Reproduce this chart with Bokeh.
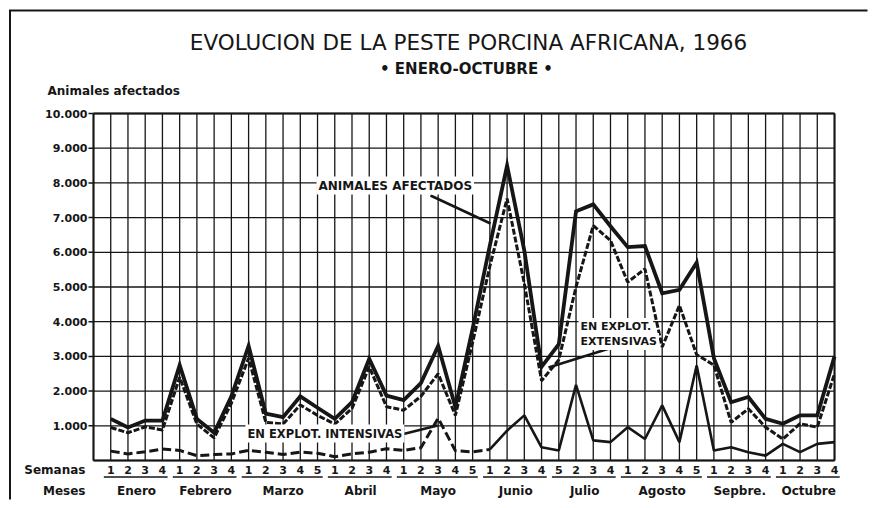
from bokeh.plotting import figure
from bokeh.models import Range1d, Label
from bokeh.core.properties import value
from bokeh.embed import file_html
from bokeh.resources import INLINE

# ---------------- data ----------------
months = ["Enero", "Febrero", "Marzo", "Abril", "Mayo", "Junio",
          "Julio", "Agosto", "Sepbre.", "Octubre"]
week_labels = [
    ["1", "2", "3", "4"],
    ["1", "2", "3", "4"],
    ["1", "2", "3", "4", "5"],
    ["1", "2", "3", "4"],
    ["1", "2", "3", "4", "5"],
    ["1", "2", "3", "4"],
    ["5", "2", "3", "4"],
    ["1", "2", "3", "4", "5"],
    ["1", "2", "3", "4"],
    ["1", "2", "3", "4"],
]
# Animales afectados (total)
total = [1200, 950, 1150, 1150,
         2750, 1200, 800, 1850,
         3300, 1350, 1250, 1850, 1520,
         1200, 1680, 2930, 1870,
         1740, 2230, 3300, 1540, 3800,
         6200, 8500, 6050, 2700,
         3350, 7180, 7380, 6750,
         6150, 6180, 4820, 4920, 5700,
         2950, 1680, 1830, 1200,
         1060, 1300, 1300, 3000]
# En explotaciones extensivas
extensivas = [950, 800, 970, 880,
              2400, 1050, 650, 1650,
              2950, 1100, 1050, 1600, 1300,
              1050, 1500, 2700, 1550,
              1450, 1850, 2500, 1300, 3400,
              5600, 7550, 5100, 2300,
              2900, 5000, 6770, 6340,
              5140, 5520, 3270, 4470, 3050,
              2750, 1100, 1490, 960,
              620, 1060, 960, 2500]
# En explotaciones intensivas
intensivas = [270, 190, 250, 330,
              290, 140, 170, 190,
              290, 240, 170, 240, 210,
              110, 190, 240, 340,
              290, 370, 1220, 280, 250,
              320, 860, 1300, 380,
              290, 2180, 580, 530,
              960, 620, 1590, 530, 2740,
              290, 380, 240, 140,
              480, 240, 480, 530]
y_ticks = [1000, 2000, 3000, 4000, 5000, 6000, 7000, 8000, 9000, 10000]
y_tick_labels = ["1.000", "2.000", "3.000", "4.000", "5.000",
                 "6.000", "7.000", "8.000", "9.000", "10.000"]

# ---------------- geometry helpers (reference pixel -> data) ----------------
PX_WEEK = 17.233
PX_UNIT = 0.0347
X0_IMG, Y0_IMG = 93.0, 460.0
CANVAS_X, CANVAS_Y = 0, 0
CANVAS_W, CANVAS_H = 868, 500


def kx(img_x):
    return (img_x - X0_IMG) / PX_WEEK


def vy(img_y):
    return (Y0_IMG - img_y) / PX_UNIT


n_weeks = sum(len(w) for w in week_labels)
weeks = list(range(1, n_weeks + 1))
y_max = y_ticks[-1]

p = figure(width=CANVAS_W, height=CANVAS_H,
           x_range=Range1d(kx(CANVAS_X), kx(CANVAS_X + CANVAS_W)),
           y_range=Range1d(vy(CANVAS_Y + CANVAS_H), vy(CANVAS_Y)),
           output_backend="svg", toolbar_location=None,
           x_axis_location=None, y_axis_location=None,
           min_border_left=0, min_border_right=0,
           min_border_top=0, min_border_bottom=0)
p.outline_line_color = None
p.background_fill_color = "white"
p.border_fill_color = "white"
p.grid.visible = False

INK = "#161616"
FONT = "DejaVu Sans"

# scan frame (left and top edges of the printed box)
p.line(x=[kx(9.5), kx(9.5), kx(CANVAS_W - 1)],
       y=[vy(CANVAS_H - 1), vy(10), vy(10)],
       line_color=INK, line_width=2, line_join="miter")

# grid
vx = list(range(0, n_weeks + 1))
p.segment(x0=vx, y0=[0] * len(vx), x1=vx, y1=[y_max] * len(vx),
          line_color=INK, line_width=1.3)
hy = [0] + y_ticks
p.segment(x0=[0] * len(hy), y0=hy, x1=[n_weeks] * len(hy), y1=hy,
          line_color=INK, line_width=1.3)
# chart frame
p.segment(x0=[0, n_weeks, 0, 0], y0=[0, 0, 0, y_max],
          x1=[0, n_weeks, n_weeks, n_weeks], y1=[y_max, y_max, 0, y_max],
          line_color=INK, line_width=2)

# y ticks and labels
p.segment(x0=[kx(88)] * len(y_ticks), y0=y_ticks, x1=[0] * len(y_ticks), y1=y_ticks,
          line_color=INK, line_width=1.5)
p.text(x=[kx(87)] * len(y_ticks), y=y_ticks, text=y_tick_labels,
       text_font=value(FONT), text_font_style="bold", text_font_size="11px",
       text_align="right", text_baseline="middle", text_color=INK)

# series
p.line(weeks, total, line_color=INK, line_width=3.8, line_join="miter")
p.line(weeks, extensivas, line_color=INK, line_width=3, line_dash="6 2")
split = 23
p.line(weeks[:split], intensivas[:split], line_color=INK, line_width=3, line_dash="9 4")
p.line(weeks[split - 1:], intensivas[split - 1:], line_color=INK, line_width=2.6)

# week numbers, month names, underlines
wx, wt = [], []
mx, u0, u1 = [], [], []
k = 1
for labs in week_labels:
    first = k
    for t in labs:
        wx.append(k)
        wt.append(t)
        k += 1
    last = k - 1
    mx.append((first + last) / 2)
    u0.append(first - 0.4)
    u1.append(last + 0.3)

p.text(x=wx, y=[vy(469)] * len(wx), text=wt, text_font=value(FONT),
       text_font_style="bold", text_font_size="11px", text_align="center",
       text_baseline="middle", text_color=INK)
p.segment(x0=u0, y0=[vy(476.5)] * len(u0), x1=u1, y1=[vy(476.5)] * len(u1),
          line_color=INK, line_width=1.6)
p.text(x=mx, y=[vy(490)] * len(mx), text=months, text_font=value(FONT),
       text_font_style="bold", text_font_size="12px", text_align="center",
       text_baseline="middle", text_color=INK)

# pointers
p.segment(x0=[kx(430), kx(612), kx(397)], y0=[vy(195), vy(347), vy(435)],
          x1=[kx(490), kx(548), kx(437)], y1=[vy(223), vy(367), vy(425)],
          line_color=INK, line_width=2.6)


def lab(x, y, text, size, style="bold", align="left", bg=None):
    kw = {}
    if bg:
        kw = dict(background_fill_color=bg, padding=2)
    p.add_layout(Label(x=x, y=y, text=text, text_font=FONT, text_font_size=size,
                       text_font_style=style, text_align=align,
                       text_baseline="middle", text_color=INK, **kw))


lab(kx(468), vy(42), "EVOLUCION DE LA PESTE PORCINA AFRICANA, 1966", "21.5px",
    style="normal", align="center")
lab(kx(466), vy(68), "\u2022 ENERO-OCTUBRE \u2022", "15px", align="center")
lab(kx(47), vy(90), "Animales afectados", "12px")
lab(kx(85), vy(469), "Semanas", "12px", align="right")
lab(kx(85), vy(490), "Meses", "12px", align="right")
lab(kx(316), vy(185), "ANIMALES AFECTADOS", "12px", bg="white")
lab(kx(578), vy(326), "EN EXPLOT.", "11px", bg="white")
lab(kx(578), vy(341), "EXTENSIVAS", "11px", bg="white")
lab(kx(245), vy(433), "EN EXPLOT. INTENSIVAS", "11.5px", bg="white")

open("out.html", "w").write(file_html(p, INLINE))
